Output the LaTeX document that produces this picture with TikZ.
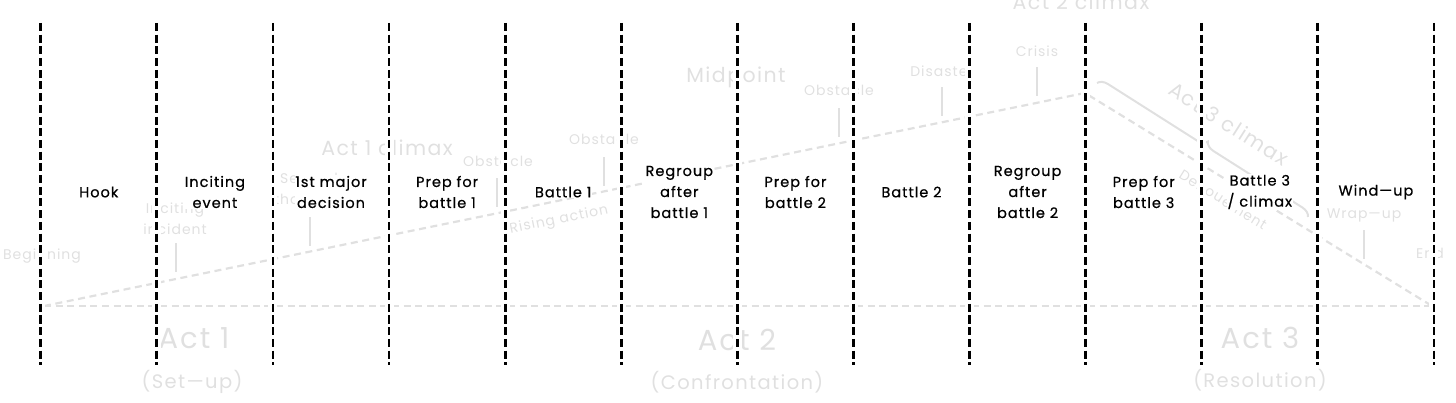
\documentclass[tikz,border=0pt]{standalone}
\usepackage{fontspec}
\setmainfont{Poppins}
\newfontfamily\hand[LetterSpace=7]{Poppins}
\newfontfamily\handbold[LetterSpace=7, FakeBold=0.6]{Poppins}
\usetikzlibrary{decorations.pathreplacing}
\definecolor{faint}{RGB}{224,224,224}

\begin{document}
\begin{tikzpicture}[x=1pt, y=-1pt,
    sep/.style={line width=2.8pt, dash pattern=on 8pt off 3.7pt, black},
    halo/.style={line width=9pt, white},
    beat/.style={fill=white, inner sep=0.5pt, align=center, text=black,
                 font=\handbold\fontsize{14.5}{21}\selectfont},
    arc/.style={line width=2.2pt, dash pattern=on 7pt off 4.6pt, faint},
    tick/.style={line width=2pt, faint},
    evt/.style={text=faint, align=center, font=\hand\fontsize{14}{21}\selectfont},
    big/.style={text=faint, font=\hand\fontsize{20.5}{24}\selectfont},
    act/.style={text=faint, font=\hand\fontsize{29}{32}\selectfont},
    sub/.style={text=faint, font=\hand\fontsize{19.5}{22}\selectfont}
]
\useasboundingbox (0,0) rectangle (1456,403);

% Story arc (background)
\coordinate (start) at (44,306);
\coordinate (peak)  at (1085,93);
\coordinate (finish) at (1432,306);
\draw[arc] (start) -- (peak) -- (finish);
\draw[arc] (start) -- (finish);

% Beats on the arc
\node[evt] (beg)   at (42,256)   {Beginning};
\node[evt] (inc)   at (175,219)  {Inciting\\incident};
\node[evt] (doubt) at (309,191)  {Second\\thoughts};
\node[evt] (obs1)  at (498,161)  {Obstacle};
\node[evt] (obs2)  at (604,139)  {Obstacle};
\node[evt] (obs3)  at (839,90)   {Obstacle};
\node[evt] (dis)   at (942,71)   {Disaster};
\node[evt] (cri)   at (1037,51)  {Crisis};
\node[evt] (wrap)  at (1364,215) {Wrap—up};
\node[evt] (fin)   at (1430,253) {End};

\foreach \x/\y in {176/243, 310/217, 497/178, 604/157, 839/108,
                   942/87, 1037/67, 1364/230}
    \draw[tick] (\x,\y) -- ++(0,29);

\node[evt, rotate=11.5] (rise) at (559,220)  {Rising action};
\node[evt, rotate=-32]  (fall) at (1223,200) {Denouement};

% Climaxes
\node[big] (a1c) at (387,148) {Act 1 climax};
\node[big] (mid) at (736,77)  {Midpoint};
\node[big, anchor=base] (a2c) at (1081,10) {Act 2 climax};
\node[big, rotate=-32.4] (a3c) at (1229,124) {Act 3 climax};
\draw[tick, decorate, decoration={brace, amplitude=10pt}]
    (1097,83) -- (1308,217);

% Acts
\node[act] (act1) at (194,338)  {Act 1};
\node[sub] (set)  at (192,382)  {(Set—up)};
\node[act] (act2) at (737,340)  {Act 2};
\node[sub] (con)  at (737,382)  {(Confrontation)};
\node[act] (act3) at (1260,338) {Act 3};
\node[sub] (res)  at (1260,380) {(Resolution)};

% Column dividers
\foreach \i in {0,...,12} {
    \coordinate (top\i) at ({40.7+116.1*\i},23);
    \coordinate (bot\i) at ({40.7+116.1*\i},365);
    \draw[halo] (top\i) -- (bot\i);
    \draw[sep]  (top\i) -- (bot\i);
}

% Column labels
\node[beat] (hook)     at (98.8,192)   {Hook};
\node[beat] (incite)   at (214.9,192)  {Inciting\\event};
\node[beat] (decide)   at (331.0,192)  {1st major\\decision};
\node[beat] (prep1)    at (447.1,192)  {Prep for\\battle 1};
\node[beat] (fight1)   at (563.2,192)  {Battle 1};
\node[beat] (regroup1) at (679.3,192)  {Regroup\\after\\battle 1};
\node[beat] (prep2)    at (795.4,192)  {Prep for\\battle 2};
\node[beat] (fight2)   at (911.5,192)  {Battle 2};
\node[beat] (regroup2) at (1027.6,192) {Regroup\\after\\battle 2};
\node[beat] (prep3)    at (1143.7,192) {Prep for\\battle 3};
\node[beat] (fight3)   at (1259.8,192) {Battle 3\\/ climax};
\node[beat] (windup)   at (1375.9,192) {Wind—up};

\end{tikzpicture}
\end{document}
